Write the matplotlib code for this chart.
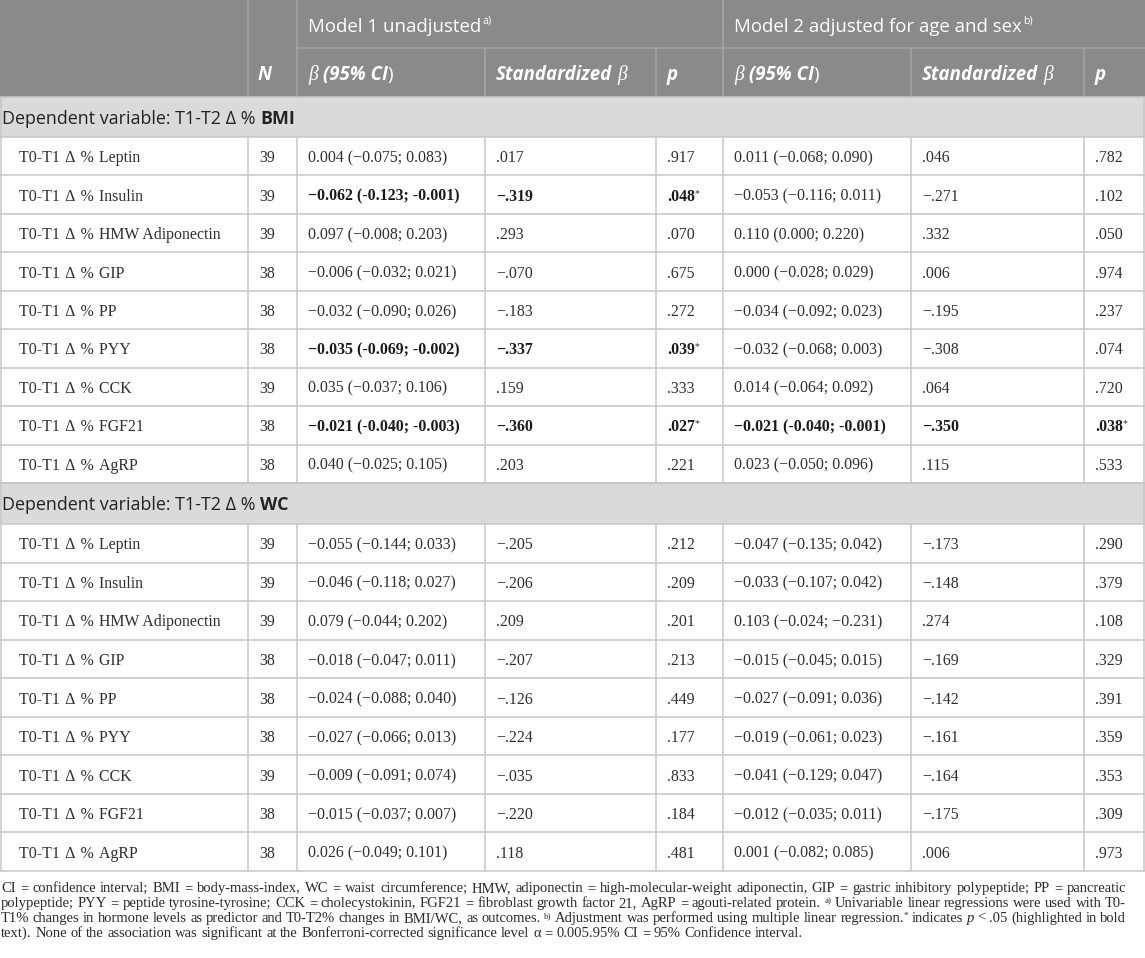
import matplotlib
matplotlib.use("Agg")
import matplotlib.pyplot as plt
from matplotlib.patches import Rectangle

# ---------------- data ----------------
predictors = ["Leptin", "Insulin", "HMW Adiponectin", "GIP", "PP", "PYY", "CCK", "FGF21", "AgRP"]
outcomes = ["BMI", "WC"]

bmi_n = [39, 39, 39, 38, 38, 38, 39, 38, 38]
bmi_m1_beta = ["0.004 (−0.075; 0.083)", "−0.062 (-0.123; -0.001)", "0.097 (−0.008; 0.203)",
               "−0.006 (−0.032; 0.021)", "−0.032 (−0.090; 0.026)", "−0.035 (-0.069; -0.002)",
               "0.035 (−0.037; 0.106)", "−0.021 (-0.040; -0.003)", "0.040 (−0.025; 0.105)"]
bmi_m1_std = [".017", "−.319", ".293", "−.070", "−.183", "−.337", ".159", "−.360", ".203"]
bmi_m1_p = [".917", ".048*", ".070", ".675", ".272", ".039*", ".333", ".027*", ".221"]
bmi_m2_beta = ["0.011 (−0.068; 0.090)", "−0.053 (−0.116; 0.011)", "0.110 (0.000; 0.220)",
               "0.000 (−0.028; 0.029)", "−0.034 (−0.092; 0.023)", "−0.032 (−0.068; 0.003)",
               "0.014 (−0.064; 0.092)", "−0.021 (-0.040; -0.001)", "0.023 (−0.050; 0.096)"]
bmi_m2_std = [".046", "−.271", ".332", ".006", "−.195", "−.308", ".064", "−.350", ".115"]
bmi_m2_p = [".782", ".102", ".050", ".974", ".237", ".074", ".720", ".038*", ".533"]
bmi_m1_bold = [False, True, False, False, False, True, False, True, False]
bmi_m2_bold = [False, False, False, False, False, False, False, True, False]

wc_n = [39, 39, 39, 38, 38, 38, 39, 38, 38]
wc_m1_beta = ["−0.055 (−0.144; 0.033)", "−0.046 (−0.118; 0.027)", "0.079 (−0.044; 0.202)",
              "−0.018 (−0.047; 0.011)", "−0.024 (−0.088; 0.040)", "−0.027 (−0.066; 0.013)",
              "−0.009 (−0.091; 0.074)", "−0.015 (−0.037; 0.007)", "0.026 (−0.049; 0.101)"]
wc_m1_std = ["−.205", "−.206", ".209", "−.207", "−.126", "−.224", "−.035", "−.220", ".118"]
wc_m1_p = [".212", ".209", ".201", ".213", ".449", ".177", ".833", ".184", ".481"]
wc_m2_beta = ["−0.047 (−0.135; 0.042)", "−0.033 (−0.107; 0.042)", "0.103 (−0.024; −0.231)",
              "−0.015 (−0.045; 0.015)", "−0.027 (−0.091; 0.036)", "−0.019 (−0.061; 0.023)",
              "−0.041 (−0.129; 0.047)", "−0.012 (−0.035; 0.011)", "0.001 (−0.082; 0.085)"]
wc_m2_std = ["−.173", "−.148", ".274", "−.169", "−.142", "−.161", "−.164", "−.175", ".006"]
wc_m2_p = [".290", ".379", ".108", ".329", ".391", ".359", ".353", ".309", ".973"]
wc_m1_bold = [False, False, False, False, False, False, False, False, False]
wc_m2_bold = [False, False, False, False, False, False, False, False, False]

model_titles = [("Model 1 unadjusted", "a)"), ("Model 2 adjusted for age and sex", "b)")]

footnote_lines = [
    "CI = confidence interval; BMI = body-mass-index, WC = waist circumference; HMW, adiponectin = high-molecular-weight adiponectin, GIP = gastric inhibitory polypeptide; PP = pancreatic",
    "polypeptide; PYY = peptide tyrosine-tyrosine; CCK = cholecystokinin, FGF21 = fibroblast growth factor 21, AgRP = agouti-related protein. ^a) Univariable linear regressions were used with T0-",
    "T1% changes in hormone levels as predictor and T0-T2% changes in BMI/WC, as outcomes. ^b) Adjustment was performed using multiple linear regression.|^* indicates ~p < .05 (highlighted in bold",
    "text). None of the association was significant at the Bonferroni-corrected significance level α = 0.005.95% CI = 95% Confidence interval.",
]

# ---------------- layout / style ----------------
W, H = 1145, 958
col_x = [0, 248, 297, 485, 656, 723, 911, 1084, 1145]
head1 = (0, 48)
head2 = (48, 97)
sections = [(97, 137, 483), (483, 524, 871)]

HDR_BG = "#8a8a8a"
HDR_LINE = "#a4a4a4"
SEC_BG = "#d9dad9"
GRID = "#c6c6c6"
TXT = "#2e2e2e"

SANS = ["Open Sans", "DejaVu Sans"]
SERIF = ["Liberation Serif", "DejaVu Serif"]
HS = 13.4      # header font size (pt)
SS = 12.9      # section font size (pt)
BS = 11.4      # body font size (pt)

fig = plt.figure(figsize=(W / 100, H / 100), dpi=100)
ax = fig.add_axes([0, 0, 1, 1])
ax.set_xlim(0, W)
ax.set_ylim(H, 0)
ax.axis("off")
renderer = fig.canvas.get_renderer()


def text_w(s, kw):
    t = ax.text(0, 0, s, **kw)
    w = t.get_window_extent(renderer).width
    t.remove()
    return w


def space_w(kw):
    return text_w("x x", kw) - text_w("xx", kw)


def draw_runs(x, y, runs):
    """runs: list of (text, kw, dy) or ('__gap__', width)"""
    for r in runs:
        if r[0] == "__gap__":
            x += r[1]
            continue
        s, kw, dy = r
        t = ax.text(x, y + dy, s, ha="left", va="baseline", **kw)
        x += t.get_window_extent(renderer).width
    return x


def hline(y, x0, x1, color, lw=1.1):
    ax.plot([x0, x1], [y, y], color=color, lw=lw, solid_capstyle="butt", zorder=3)


def vline(x, y0, y1, color, lw=1.1):
    ax.plot([x, x], [y0, y1], color=color, lw=lw, solid_capstyle="butt", zorder=3)


# header background
ax.add_patch(Rectangle((0, 0), W, head2[1], facecolor=HDR_BG, edgecolor="none", zorder=1))
hline(head1[1], col_x[2], W, HDR_LINE)
for cx in [col_x[1], col_x[2], col_x[5]]:
    vline(cx, 0, head1[1], HDR_LINE)
for cx in col_x[1:-1]:
    vline(cx, head1[1], head2[1], HDR_LINE)

hdr_reg = dict(family=SANS, fontsize=HS, color="white")
hdr_sup = dict(family=SANS, fontsize=HS * 0.58, color="white")
hdr_bi = dict(family=SANS, fontsize=HS, color="white", fontweight="bold", fontstyle="italic")
hdr_beta = dict(family=SERIF, fontsize=HS * 1.05, color="white", fontstyle="italic")

b1 = 31.5
for (title, sup), cx in zip(model_titles, [col_x[2], col_x[5]]):
    draw_runs(cx + 11, b1, [(title, hdr_reg, 0), ("__gap__", 1), (sup, hdr_sup, -8)])

b2 = 79.5
sp = space_w(hdr_bi)
draw_runs(col_x[1] + 10, b2, [("N", hdr_bi, 0)])
for k in [2, 5]:
    draw_runs(col_x[k] + 11, b2, [("β", hdr_beta, 0), ("__gap__", sp),
                                  ("(95% CI", hdr_bi, 0), (")", hdr_reg, 0)])
    draw_runs(col_x[k + 1] + 11, b2, [("Standardized", hdr_bi, 0), ("__gap__", sp),
                                      ("β", hdr_beta, 0)])
    draw_runs(col_x[k + 2] + 11, b2, [("p", hdr_bi, 0)])

# body
sec_reg = dict(family=SANS, fontsize=SS, color="#222222")
sec_bold = dict(family=SANS, fontsize=SS, color="#222222", fontweight="bold")
body_reg = dict(family=SERIF, fontsize=BS, color=TXT)
body_bold = dict(family=SERIF, fontsize=BS, color="#1a1a1a", fontweight="bold")
body_sup = dict(family=SERIF, fontsize=BS * 0.62, color=TXT)

tables = [
    (bmi_n, bmi_m1_beta, bmi_m1_std, bmi_m1_p, bmi_m2_beta, bmi_m2_std, bmi_m2_p, bmi_m1_bold, bmi_m2_bold),
    (wc_n, wc_m1_beta, wc_m1_std, wc_m1_p, wc_m2_beta, wc_m2_std, wc_m2_p, wc_m1_bold, wc_m2_bold),
]


def draw_p(x, y, s, bold):
    kw = body_bold if bold else body_reg
    if s.endswith("*"):
        draw_runs(x, y, [(s[:-1], kw, 0), ("*", body_sup, -5)])
    else:
        draw_runs(x, y, [(s, kw, 0)])


for (band_top, rows_top, rows_bot), outcome, data in zip(sections, outcomes, tables):
    n, m1b, m1s, m1p, m2b, m2s, m2p, bold1, bold2 = data
    ax.add_patch(Rectangle((0, band_top), W, rows_top - band_top, facecolor=SEC_BG,
                           edgecolor="none", zorder=1))
    draw_runs(2, (band_top + rows_top) / 2 + 6.5,
              [("Dependent variable: T1-T2 Δ %", sec_reg, 0), ("__gap__", space_w(sec_reg)),
               (outcome, sec_bold, 0)])
    rh = (rows_bot - rows_top) / len(predictors)
    hline(band_top, 0, W, GRID)
    hline(rows_top, 0, W, GRID)
    for i, pred in enumerate(predictors):
        y0 = rows_top + i * rh
        yb = y0 + rh / 2 + 6.0
        hline(y0 + rh, 0, W, GRID)
        ax.text(19, yb, "T0-T1\u2004Δ\u2004%\u2004" + pred, ha="left", va="baseline", **body_reg)
        draw_runs(col_x[1] + 11, yb, [(str(n[i]), body_reg, 0)])
        for k, (b, s, p, bold) in zip([2, 5], [(m1b[i], m1s[i], m1p[i], bold1[i]),
                                             (m2b[i], m2s[i], m2p[i], bold2[i])]):
            kw = body_bold if bold else body_reg
            draw_runs(col_x[k] + 11, yb, [(b, kw, 0)])
            draw_runs(col_x[k + 1] + 11, yb, [(s, kw, 0)])
            draw_p(col_x[k + 2] + 11, yb, p, bold)
    for cx in col_x[1:-1]:
        vline(cx, rows_top, rows_bot, GRID)
    vline(0.6, band_top, rows_bot, GRID)
    vline(W - 0.6, band_top, rows_bot, GRID)

# footnote
x_left, x_right = 1, 1126
FS0 = 10.0
probe = dict(family=SERIF, fontsize=FS0)
nat = text_w(footnote_lines[0], probe)
FS = FS0 * (x_right - x_left - 8) / nat
fn_reg = dict(family=SERIF, fontsize=FS, color="#2a2a2a")
fn_it = dict(family=SERIF, fontsize=FS, color="#2a2a2a", fontstyle="italic")
fn_sup = dict(family=SERIF, fontsize=FS * 0.62, color="#2a2a2a")


def parse_word(word):
    pieces = []
    for seg in word.split("|"):
        if seg.startswith("^"):
            pieces.append((seg[1:], fn_sup, -4))
        elif seg.startswith("~"):
            pieces.append((seg[1:], fn_it, 0))
        else:
            pieces.append((seg, fn_reg, 0))
    return pieces


fn_base = [891.7, 906.7, 921.7, 936.7]
sp_fn = space_w(fn_reg)
for li, (line, yb) in enumerate(zip(footnote_lines, fn_base)):
    words = [parse_word(w) for w in line.split(" ")]
    widths = [sum(text_w(p[0], p[1]) for p in w) for w in words]
    if li < len(footnote_lines) - 1:
        gap = (x_right - x_left - sum(widths)) / (len(words) - 1)
    else:
        gap = sp_fn
    x = x_left
    for w, wd in zip(words, widths):
        draw_runs(x, yb, w)
        x += wd + gap

fig.savefig("out.png", dpi=100)
